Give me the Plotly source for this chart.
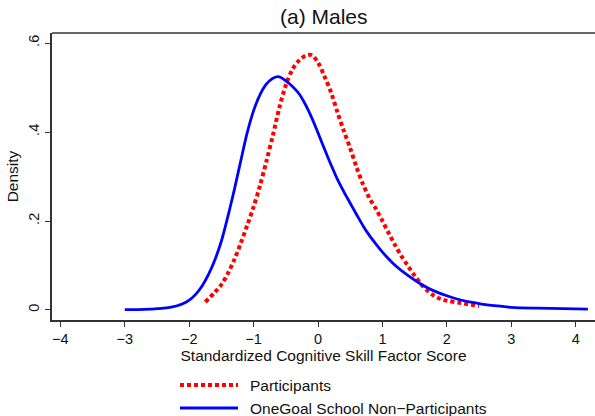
import plotly.graph_objects as go

# Kernel density estimates of the standardized cognitive skill factor score (males)
participants_x = [-1.75, -1.6, -1.5, -1.4, -1.3, -1.2, -1.1, -1.0, -0.9, -0.8,
                  -0.7, -0.6, -0.5, -0.4, -0.3, -0.2, -0.1, 0.0, 0.1, 0.2,
                  0.3, 0.4, 0.5, 0.6, 0.7, 0.8, 0.9, 1.0, 1.1, 1.2,
                  1.3, 1.4, 1.5, 1.6, 1.7, 1.8, 1.9, 2.0, 2.2, 2.5]
participants_y = [0.018, 0.040, 0.057, 0.082, 0.113, 0.150, 0.190, 0.232, 0.280, 0.335,
                  0.393, 0.455, 0.505, 0.540, 0.560, 0.571, 0.573, 0.556, 0.525, 0.490,
                  0.445, 0.403, 0.363, 0.320, 0.282, 0.251, 0.227, 0.200, 0.172, 0.145,
                  0.120, 0.098, 0.077, 0.058, 0.043, 0.032, 0.025, 0.021, 0.016, 0.009]

nonpart_x = [-3.0, -2.8, -2.6, -2.5, -2.4, -2.3, -2.2, -2.1, -2.0, -1.9,
             -1.8, -1.7, -1.6, -1.5, -1.4, -1.3, -1.2, -1.1, -1.0, -0.9,
             -0.8, -0.7, -0.6, -0.5, -0.4, -0.3, -0.2, -0.1, 0.0, 0.1,
             0.2, 0.3, 0.4, 0.5, 0.6, 0.7, 0.8, 0.9, 1.0, 1.2,
             1.4, 1.6, 1.8, 2.0, 2.2, 2.4, 2.6, 2.8, 3.0, 3.4,
             3.8, 4.19]
nonpart_y = [0.001, 0.001, 0.002, 0.003, 0.004, 0.006, 0.009, 0.014, 0.022, 0.035,
             0.054, 0.080, 0.113, 0.155, 0.210, 0.270, 0.335, 0.398, 0.448, 0.484,
             0.508, 0.521, 0.524, 0.515, 0.503, 0.487, 0.463, 0.433, 0.398, 0.362,
             0.327, 0.294, 0.266, 0.240, 0.214, 0.189, 0.167, 0.148, 0.130, 0.100,
             0.077, 0.058, 0.043, 0.032, 0.023, 0.017, 0.012, 0.009, 0.006, 0.004,
             0.003, 0.002]

x_ticks = [-4, -3, -2, -1, 0, 1, 2, 3, 4]
y_ticks = [0, 0.2, 0.4, 0.6]
y_tick_labels = ["0", ".2", ".4", ".6"]

series_names = ["Participants", "OneGoal School Non\u2212Participants"]
red = "#ff0000"
blue = "#0000ff"
axis_col = "#333333"
font_family = "Liberation Sans, Arial, sans-serif"

fig = go.Figure()
fig.add_trace(go.Scatter(
    x=participants_x, y=participants_y, mode="lines", name=series_names[0],
    line=dict(color=red, width=4, dash="4px,3px", shape="spline", smoothing=0.9),
    showlegend=False,
))
fig.add_trace(go.Scatter(
    x=nonpart_x, y=nonpart_y, mode="lines", name=series_names[1],
    line=dict(color=blue, width=2.8, shape="spline", smoothing=0.9),
    showlegend=False,
))

W, H = 595, 416
ml, mr, mt, mb = 52, 0, 33, 96

fig.update_layout(
    width=W, height=H,
    margin=dict(l=ml, r=mr, t=mt, b=mb),
    paper_bgcolor="white", plot_bgcolor="white",
    font=dict(family=font_family, size=15, color="#111111"),
    xaxis=dict(
        range=[-4.13, 4.30], tickvals=x_ticks,
        ticktext=[str(v).replace("-", "\u2212") for v in x_ticks],
        showgrid=False, zeroline=False, showline=True, linecolor=axis_col, linewidth=1.5,
        ticks="outside", ticklen=5, tickwidth=1.2, tickcolor=axis_col,
        tickfont=dict(size=14.5),
        title=dict(text="Standardized Cognitive Skill Factor Score",
                   font=dict(size=15.5), standoff=2),
    ),
    yaxis=dict(
        range=[-0.0225, 0.6225], tickvals=y_ticks, ticktext=y_tick_labels, tickangle=-90,
        showgrid=False, zeroline=False, showline=True, linecolor=axis_col, linewidth=1.5,
        ticks="outside", ticklen=5, tickwidth=1.2, tickcolor=axis_col,
        tickfont=dict(size=14.5),
        title=dict(text="Density", font=dict(size=15.5), standoff=4),
    ),
)

# top border of the plot region
fig.add_shape(type="line", xref="paper", yref="paper", x0=0, x1=1, y0=1, y1=1,
              line=dict(color=axis_col, width=1.5))

# panel title
fig.add_annotation(text="(a) Males", xref="paper", yref="paper", x=0.5, y=1,
                   yshift=3, yanchor="bottom", showarrow=False, font=dict(size=21))

# legend drawn below the axis title
pw = W - ml - mr
ph = H - mt - mb
def px_to_paper(px, py):
    return (px - ml) / pw, (H - mb - py) / ph

legend_rows = [(385, red, 4, "4px,3px"), (408, blue, 2.8, "solid")]
for (py, col, w, dash), name in zip(legend_rows, series_names):
    x0, y0 = px_to_paper(180, py)
    x1, _ = px_to_paper(238, py)
    fig.add_shape(type="line", xref="paper", yref="paper", x0=x0, x1=x1, y0=y0, y1=y0,
                  line=dict(color=col, width=w, dash=dash))
    tx, _ = px_to_paper(248, py)
    fig.add_annotation(text=name, xref="paper", yref="paper", x=tx, y=y0,
                       xanchor="left", yanchor="middle", showarrow=False,
                       font=dict(size=15.5))

fig.write_html("out.html")
